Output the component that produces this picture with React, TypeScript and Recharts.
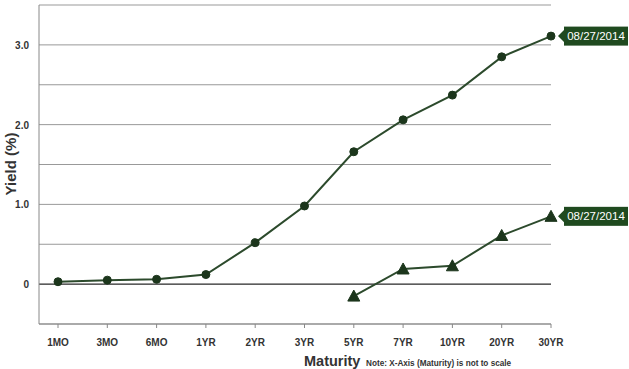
import React from "react";
import { LineChart, Line, XAxis, YAxis, CartesianGrid, ReferenceLine, Label } from "recharts";

// yield curve snapshot, 08/27/2014
const maturities = ["1MO", "3MO", "6MO", "1YR", "2YR", "3YR", "5YR", "7YR", "10YR", "20YR", "30YR"];
const nominalYields = [0.03, 0.05, 0.06, 0.12, 0.52, 0.98, 1.66, 2.06, 2.37, 2.85, 3.11];
const realYields: (number | null)[] = [null, null, null, null, null, null, -0.15, 0.19, 0.23, 0.61, 0.85];
const yTicks = [-0.5, 0, 0.5, 1, 1.5, 2, 2.5, 3, 3.5];
const yLabels: Record<string, string> = { "0": "0", "1": "1.0", "2": "2.0", "3": "3.0" };
const seriesDate = "08/27/2014";

const data = maturities.map((m, i) => ({ maturity: m, nominal: nominalYields[i], real: realYields[i] }));

const FONT = "'Liberation Sans', Arial, sans-serif";
const LINE = "#2c4a2c";
const MARK = "#1c361c";
const BOX = "#1f4a1f";

const YTick = (props: any) => {
  const { x, y, payload } = props;
  const txt = yLabels[String(payload.value)];
  if (!txt) return null;
  return (
    <text x={x - 2} y={y + 4} textAnchor="end" fontSize={10} fontWeight="bold" fill="#333" fontFamily={FONT}>
      {txt}
    </text>
  );
};

const XTick = (props: any) => {
  const { x, y, payload } = props;
  return (
    <text x={x} y={y + 16} textAnchor="middle" fontSize={10} fontWeight="bold" fill="#333" fontFamily={FONT}>
      {payload.value}
    </text>
  );
};

const Triangle = (props: any) => {
  const { cx, cy, index } = props;
  if (cx == null || cy == null || props.value == null) return <g key={index} />;
  return (
    <polygon
      key={index}
      points={`${cx},${cy - 6} ${cx - 6},${cy + 5} ${cx + 6},${cy + 5}`}
      fill={MARK}
      stroke={MARK}
      strokeWidth={1}
    />
  );
};

const EndTag = (props: any) => {
  const { x, y, index } = props;
  if (index !== maturities.length - 1) return null;
  const tip = x + 7;
  const bx = x + 13;
  return (
    <g>
      <polygon points={`${tip},${y} ${bx},${y - 6} ${bx},${y + 6}`} fill={BOX} />
      <rect x={bx} y={y - 9.5} width={64} height={19} fill={BOX} />
      <text x={bx + 32} y={y + 4} textAnchor="middle" fontSize={11.5} fill="#fff" fontFamily={FONT}>
        {seriesDate}
      </text>
    </g>
  );
};

export default function App() {
  return (
    <div style={{ position: "absolute", left: 0, top: 0, background: "#fff" }}>
      <LineChart width={629} height={369} data={data} margin={{ top: 5, right: 78, left: 0, bottom: 0 }}>
        <CartesianGrid vertical={false} stroke="#999" horizontalValues={yTicks} />
        <XAxis
          dataKey="maturity"
          height={45}
          padding={{ left: 19, right: 0 }}
          stroke="#888"
          tickLine={{ stroke: "#888" }}
          tickSize={4}
          tick={<XTick />}
          interval={0}
        >
          <Label
            content={() => (
              <g fontFamily={FONT} fontWeight="bold" fill="#333">
                <text x={304} y={366} fontSize={14.5}>Maturity</text>
                <text x={366} y={366} fontSize={8.2}>Note: X-Axis (Maturity) is not to scale</text>
              </g>
            )}
          />
        </XAxis>
        <YAxis
          width={39}
          domain={[-0.5, 3.5]}
          ticks={yTicks}
          stroke="#888"
          tickLine={false}
          tick={<YTick />}
          interval={0}
        >
          <Label
            content={() => (
              <text
                x={16}
                y={164}
                transform="rotate(-90 16 164)"
                textAnchor="middle"
                fontSize={15}
                fontWeight="bold"
                fill="#333"
                fontFamily={FONT}
              >
                Yield (%)
              </text>
            )}
          />
        </YAxis>
        <ReferenceLine y={0} stroke="#222" strokeWidth={1} />
        <Line
          dataKey="nominal"
          stroke={LINE}
          strokeWidth={2}
          dot={{ r: 4, fill: MARK, stroke: MARK, strokeWidth: 1 }}
          isAnimationActive={false}
          label={<EndTag />}
        />
        <Line
          dataKey="real"
          stroke={LINE}
          strokeWidth={2}
          dot={<Triangle />}
          isAnimationActive={false}
          label={<EndTag />}
        />
      </LineChart>
    </div>
  );
}
